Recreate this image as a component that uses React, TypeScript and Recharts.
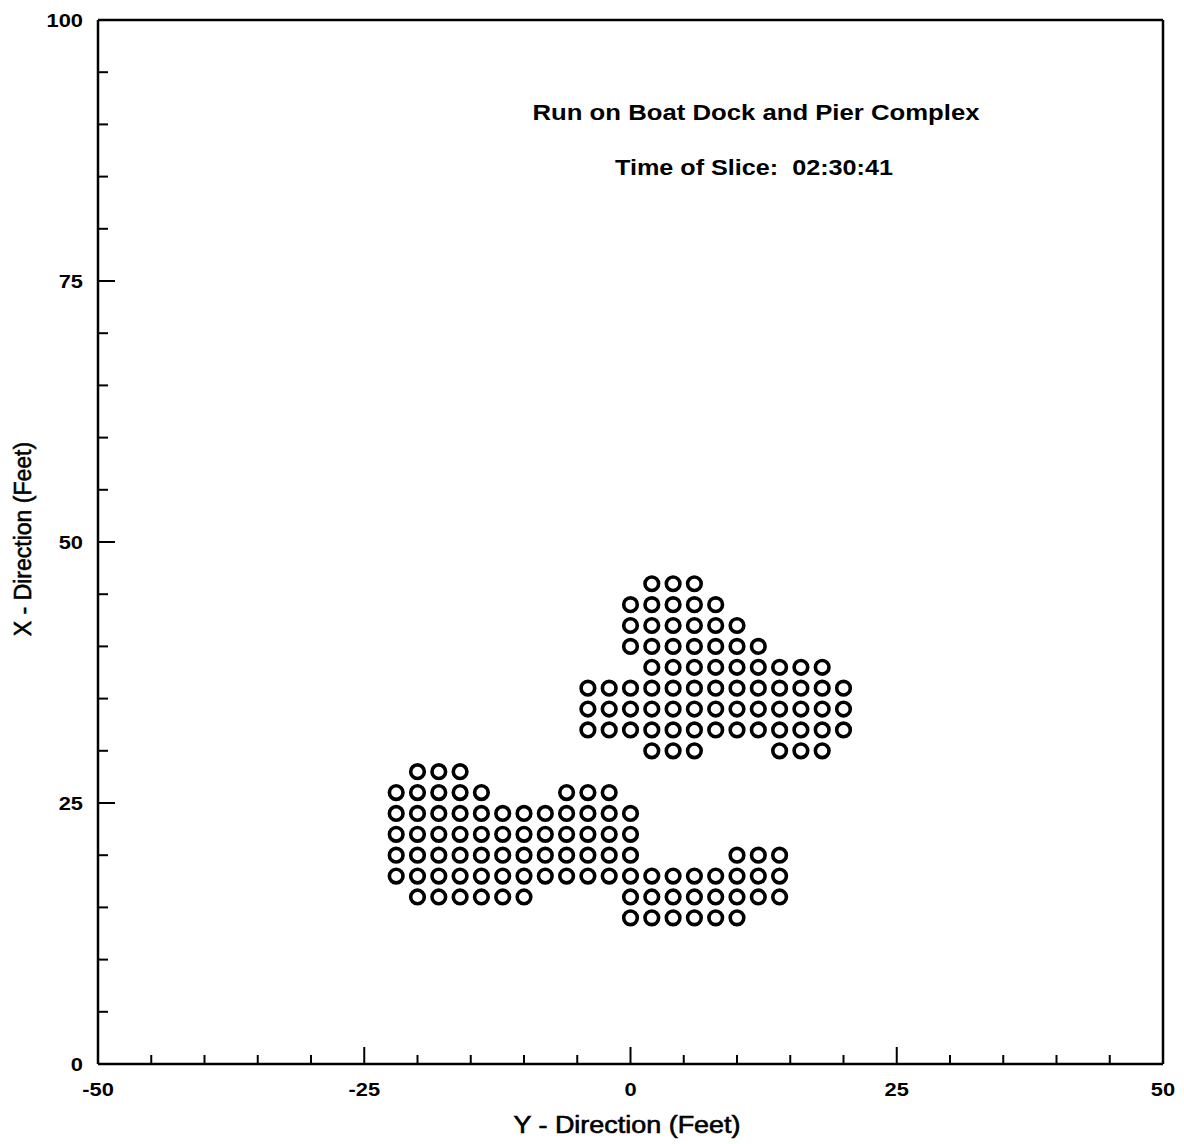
import { ScatterChart, Scatter, XAxis, YAxis, ReferenceLine } from "recharts";

// grid points of the slice, one entry per row: [X position, list of Y positions]
const upperRows: [number, number[]][] = [
  [46, [2, 4, 6]],
  [44, [0, 2, 4, 6, 8]],
  [42, [0, 2, 4, 6, 8, 10]],
  [40, [0, 2, 4, 6, 8, 10, 12]],
  [38, [2, 4, 6, 8, 10, 12, 14, 16, 18]],
  [36, [-4, -2, 0, 2, 4, 6, 8, 10, 12, 14, 16, 18, 20]],
  [34, [-4, -2, 0, 2, 4, 6, 8, 10, 12, 14, 16, 18, 20]],
  [32, [-4, -2, 0, 2, 4, 6, 8, 10, 12, 14, 16, 18, 20]],
  [30, [2, 4, 6, 14, 16, 18]],
];

const lowerRows: [number, number[]][] = [
  [28, [-20, -18, -16]],
  [26, [-22, -20, -18, -16, -14, -6, -4, -2]],
  [24, [-22, -20, -18, -16, -14, -12, -10, -8, -6, -4, -2, 0]],
  [22, [-22, -20, -18, -16, -14, -12, -10, -8, -6, -4, -2, 0]],
  [20, [-22, -20, -18, -16, -14, -12, -10, -8, -6, -4, -2, 0, 10, 12, 14]],
  [18, [-22, -20, -18, -16, -14, -12, -10, -8, -6, -4, -2, 0, 2, 4, 6, 8, 10, 12, 14]],
  [16, [-20, -18, -16, -14, -12, -10, 0, 2, 4, 6, 8, 10, 12, 14]],
  [14, [0, 2, 4, 6, 8, 10]],
];

const yDirTicks = [-50, -45, -40, -35, -30, -25, -20, -15, -10, -5, 0, 5, 10, 15, 20, 25, 30, 35, 40, 45, 50];
const xDirTicks = [0, 5, 10, 15, 20, 25, 30, 35, 40, 45, 50, 55, 60, 65, 70, 75, 80, 85, 90, 95, 100];

const title = "Run on Boat Dock and Pier Complex";
const sliceTime = "02:30:41";

const toPoints = (rows: [number, number[]][]) =>
  rows.flatMap(([x, ys]) => ys.map((y) => ({ y, x })));

const points = [...toPoints(upperRows), ...toPoints(lowerRows)];

const FONT = "'Liberation Sans', Arial, Helvetica, sans-serif";

const Ring = (props: any) => {
  const { cx, cy } = props;
  return <circle cx={cx} cy={cy} r={6.8} fill="none" stroke="#000" strokeWidth={3.6} />;
};

const BottomTick = (props: any) => {
  const { x, y, payload } = props;
  const major = payload.value % 25 === 0;
  return (
    <g>
      <line x1={x} y1={y} x2={x} y2={y - (major ? 17 : 9)} stroke="#000" strokeWidth={2} />
      {major && (
        <text
          transform={`translate(${x},${y + 31.5}) scale(1.15,1)`}
          textAnchor="middle"
          fontFamily={FONT}
          fontWeight="bold"
          fontSize={19}
          fill="#000"
        >
          {payload.value}
        </text>
      )}
    </g>
  );
};

const LeftTick = (props: any) => {
  const { x, y, payload } = props;
  const major = payload.value % 25 === 0;
  return (
    <g>
      <line x1={x} y1={y} x2={x + (major ? 17 : 10)} y2={y} stroke="#000" strokeWidth={2} />
      {major && (
        <text
          transform={`translate(${x - 15},${y + 7}) scale(1.15,1)`}
          textAnchor="end"
          fontFamily={FONT}
          fontWeight="bold"
          fontSize={19}
          fill="#000"
        >
          {payload.value}
        </text>
      )}
    </g>
  );
};

export default function App() {
  return (
    <div style={{ position: "relative", width: 1176, height: 1136, background: "#fff" }}>
      <ScatterChart
        width={1176}
        height={1136}
        margin={{ top: 12, right: 21, left: 10, bottom: 10 }}
      >
        <XAxis
          type="number"
          dataKey="y"
          domain={[-50, 50]}
          ticks={yDirTicks}
          interval={0}
          height={70}
          tickSize={0}
          tickMargin={0}
          tickLine={false}
          axisLine={{ stroke: "#000", strokeWidth: 2.5 }}
          tick={<BottomTick />}
        />
        <YAxis
          type="number"
          dataKey="x"
          domain={[0, 100]}
          ticks={xDirTicks}
          interval={0}
          width={80}
          tickSize={0}
          tickMargin={0}
          tickLine={false}
          axisLine={{ stroke: "#000", strokeWidth: 2.5 }}
          tick={<LeftTick />}
        />
        <ReferenceLine y={100} stroke="#000" strokeWidth={2.5} />
        <ReferenceLine x={50} stroke="#000" strokeWidth={2.5} />
        <Scatter data={points} shape={<Ring />} isAnimationActive={false} />
      </ScatterChart>
      <svg
        width={1176}
        height={1136}
        style={{ position: "absolute", left: 0, top: 0, pointerEvents: "none" }}
      >
        <g fontFamily={FONT} fill="#000">
          <text x={748} y={112} textAnchor="middle" fontWeight="bold" fontSize={22} textLength={447} lengthAdjust="spacingAndGlyphs">
            {title}
          </text>
          <text x={746} y={167} textAnchor="middle" fontWeight="bold" fontSize={22} textLength={278} lengthAdjust="spacingAndGlyphs" style={{ whiteSpace: "pre" }}>
            {`Time of Slice:  ${sliceTime}`}
          </text>
          <text x={619} y={1125} textAnchor="middle" fontSize={23} stroke="#000" strokeWidth={0.6} textLength={227} lengthAdjust="spacingAndGlyphs">
            Y - Direction (Feet)
          </text>
          <text x={23} y={531} textAnchor="middle" fontSize={23} stroke="#000" strokeWidth={0.6} transform="rotate(-90 23 531)">
            X - Direction (Feet)
          </text>
        </g>
      </svg>
    </div>
  );
}
